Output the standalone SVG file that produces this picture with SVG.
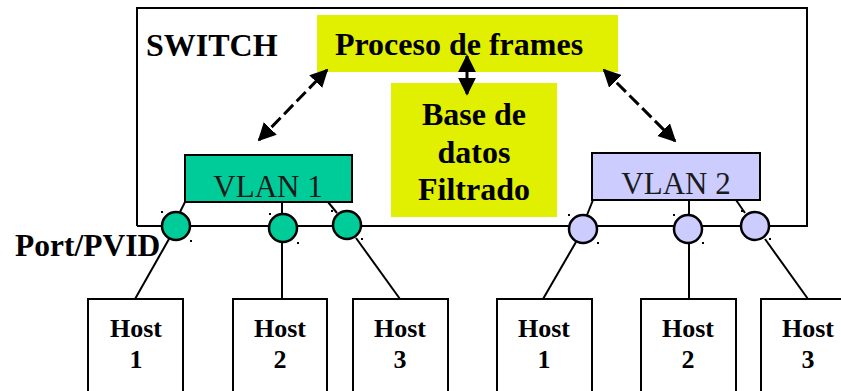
<svg xmlns="http://www.w3.org/2000/svg" width="841" height="391" viewBox="0 0 841 391">
<style>
.ln{stroke:#000;stroke-width:2;fill:none}
.b{font-family:"Liberation Serif","Times New Roman",serif;font-weight:bold;fill:#000}
.r{font-family:"Liberation Serif","Times New Roman",serif;fill:#1a1a1a}
.yl{fill:#e1ef00}
.p1{fill:#00cc99;stroke:#000;stroke-width:2.5}
.p2{fill:#ccccff;stroke:#000;stroke-width:2.5}
.host{fill:#fff;stroke:#000;stroke-width:2}
.dot{fill:#000}
.arr{stroke:#000;stroke-width:3;fill:none}
</style>
<defs>
<marker id="ah" viewBox="0 0 10 10" refX="9" refY="5" markerWidth="6" markerHeight="6" orient="auto-start-reverse" markerUnits="strokeWidth">
<path d="M0,0 L10,5 L0,10 Z" fill="#000"/>
</marker>
</defs>
<rect width="841" height="391" fill="#fff"/>
<g id="switch">
<path class="ln" d="M137,226 L137,8 L807,8 L807,226 L137,226"/>
<text class="b" x="146" y="56" font-size="32">SWITCH</text>
</g>
<g id="proceso">
<rect class="yl" x="317" y="15" width="301" height="57"/>
<text class="b" x="459" y="55" font-size="32" text-anchor="middle">Proceso de frames</text>
</g>
<g id="base">
<rect class="yl" x="391" y="83" width="166" height="134"/>
<text class="b" x="474" y="125" font-size="32" text-anchor="middle">Base de</text>
<text class="b" x="474" y="163" font-size="32" text-anchor="middle">datos</text>
<text class="b" x="474" y="200" font-size="32" text-anchor="middle">Filtrado</text>
</g>
<g id="portpvid">
<text class="b" x="15" y="256" font-size="31.5">Port/PVID</text>
</g>
<g id="connectors">
<line class="arr" x1="259" y1="140" x2="327" y2="70" stroke-dasharray="13,5" marker-start="url(#ah)" marker-end="url(#ah)"/>
<line class="arr" x1="604" y1="70" x2="675" y2="141" stroke-dasharray="13,5" marker-start="url(#ah)" marker-end="url(#ah)"/>
<line class="arr" x1="467" y1="56" x2="467" y2="94" marker-start="url(#ah)" marker-end="url(#ah)"/>
<line class="ln" x1="185" y1="202" x2="180" y2="212"/>
<line class="ln" x1="282" y1="202" x2="282" y2="214"/>
<line class="ln" x1="328" y1="202" x2="337" y2="213"/>
<line class="ln" x1="593" y1="200" x2="587" y2="215"/>
<line class="ln" x1="689" y1="200" x2="689" y2="215"/>
<line class="ln" x1="736" y1="200" x2="745" y2="213"/>
<line class="ln" x1="169" y1="239" x2="135" y2="299"/>
<line class="ln" x1="282" y1="242" x2="282" y2="299"/>
<line class="ln" x1="356" y1="238" x2="400" y2="299"/>
<line class="ln" x1="576" y1="242" x2="543" y2="299"/>
<line class="ln" x1="689" y1="243" x2="689" y2="299"/>
<line class="ln" x1="765" y1="239" x2="808" y2="299"/>
</g>
<g id="vlan1">
<rect x="185" y="155" width="167" height="47" fill="#00cc99" stroke="#000" stroke-width="2"/>
<text class="r" x="268" y="197" font-size="31" text-anchor="middle">VLAN 1</text>
</g>
<g id="vlan2">
<rect x="592" y="153" width="168" height="47" fill="#ccccff" stroke="#000" stroke-width="2"/>
<text class="r" x="676" y="194" font-size="31" text-anchor="middle">VLAN 2</text>
</g>
<g id="port1-1"><circle class="p1" cx="176" cy="226" r="14"/><rect class="dot" x="161" y="211" width="2" height="2"/><rect class="dot" x="190" y="240" width="2" height="2"/></g>
<g id="port1-2"><circle class="p1" cx="283" cy="228" r="14"/><rect class="dot" x="269" y="213" width="2" height="2"/><rect class="dot" x="297" y="242" width="2" height="2"/></g>
<g id="port1-3"><circle class="p1" cx="347" cy="225" r="14"/><rect class="dot" x="331" y="210" width="2" height="2"/><rect class="dot" x="361" y="238" width="2" height="2"/></g>
<g id="port2-1"><circle class="p2" cx="583" cy="229" r="14"/><rect class="dot" x="568" y="214" width="2" height="2"/><rect class="dot" x="597" y="242" width="2" height="2"/></g>
<g id="port2-2"><circle class="p2" cx="688" cy="229" r="14"/><rect class="dot" x="673" y="214" width="2" height="2"/><rect class="dot" x="702" y="242" width="2" height="2"/></g>
<g id="port2-3"><circle class="p2" cx="755" cy="226" r="14"/><rect class="dot" x="741" y="210" width="2" height="2"/><rect class="dot" x="769" y="238" width="2" height="2"/></g>
<g id="host1a"><rect class="host" x="88" y="299" width="95" height="100"/><text class="b" x="136" y="337" font-size="26" text-anchor="middle">Host</text><text class="b" x="136" y="368" font-size="26" text-anchor="middle">1</text></g>
<g id="host2a"><rect class="host" x="233" y="299" width="94" height="100"/><text class="b" x="280" y="337" font-size="26" text-anchor="middle">Host</text><text class="b" x="280" y="368" font-size="26" text-anchor="middle">2</text></g>
<g id="host3a"><rect class="host" x="353" y="299" width="95" height="100"/><text class="b" x="400" y="337" font-size="26" text-anchor="middle">Host</text><text class="b" x="400" y="368" font-size="26" text-anchor="middle">3</text></g>
<g id="host1b"><rect class="host" x="497" y="299" width="95" height="100"/><text class="b" x="544" y="337" font-size="26" text-anchor="middle">Host</text><text class="b" x="544" y="368" font-size="26" text-anchor="middle">1</text></g>
<g id="host2b"><rect class="host" x="641" y="299" width="95" height="100"/><text class="b" x="688" y="337" font-size="26" text-anchor="middle">Host</text><text class="b" x="688" y="368" font-size="26" text-anchor="middle">2</text></g>
<g id="host3b"><rect class="host" x="761" y="299" width="95" height="100"/><text class="b" x="808" y="337" font-size="26" text-anchor="middle">Host</text><text class="b" x="808" y="368" font-size="26" text-anchor="middle">3</text></g>
</svg>
